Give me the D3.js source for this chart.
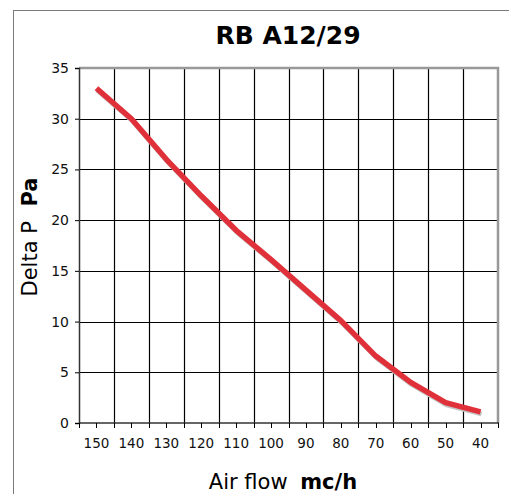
<!DOCTYPE html>
<html>
<head>
<meta charset="utf-8">
<script src="https://cdn.jsdelivr.net/npm/d3@7"></script>
<style>
body { margin: 0; background: #fff; }
svg { display: block; font-family: "DejaVu Sans", Verdana, sans-serif; }
</style>
</head>
<body>
<svg></svg>
<script>
var width = 509;
var height = 494;
var title = "RB A12/29";
var flows = [150, 140, 130, 120, 110, 100, 90, 80, 70, 60, 50, 40];
var pressure = [33, 30, 26, 22.4, 19, 16.1, 13.1, 10.1, 6.6, 4, 2, 1.1];
var yTicks = [0, 5, 10, 15, 20, 25, 30, 35];

var svg = d3.select("svg").attr("width", width).attr("height", height);

var pLeft = 79, pRight = 498, pTop = 68, pBottom = 423;

var x = d3.scaleBand().domain(flows).range([pLeft, pRight]).paddingInner(0).paddingOuter(0);
var y = d3.scaleLinear().domain([0, 35]).range([pBottom, pTop]);

// outer frame
svg.append("rect")
	.attr("x", 13.5).attr("y", 10.5)
	.attr("width", 600).attr("height", 600)
	.attr("fill", "none").attr("stroke", "#7a7a7a").attr("stroke-width", 1);

svg.append("text")
	.attr("x", 288).attr("y", 44)
	.attr("text-anchor", "middle")
	.style("font-size", "25px").style("font-weight", "bold")
	.text(title);

// grid
var g = svg.append("g");
g.selectAll(".hgrid").data(yTicks.filter(function(d) { return d > 0 && d < 35; }))
	.enter().append("line")
	.attr("x1", pLeft).attr("x2", pRight)
	.attr("y1", function(d) { return Math.round(y(d)) + 0.5; })
	.attr("y2", function(d) { return Math.round(y(d)) + 0.5; })
	.attr("stroke", "#000").attr("stroke-width", 1.2);

g.selectAll(".vgrid").data(flows.slice(1))
	.enter().append("line")
	.attr("x1", function(d) { return Math.round(x(d)) + 0.5; })
	.attr("x2", function(d) { return Math.round(x(d)) + 0.5; })
	.attr("y1", pTop).attr("y2", pBottom)
	.attr("stroke", "#000").attr("stroke-width", 1.2);

// plot border (top & right in gray)
g.append("path")
	.attr("d", "M" + pLeft + "," + pTop + "H" + pRight + "V" + pBottom)
	.attr("fill", "none").attr("stroke", "#999").attr("stroke-width", 2.5);

// line with shadow
var line = d3.line()
	.x(function(d, i) { return x(flows[i]) + x.bandwidth() / 2; })
	.y(function(d) { return y(d); });

g.append("path").datum(pressure)
	.attr("d", line)
	.attr("transform", "translate(1,2)")
	.attr("fill", "none").attr("stroke", "#c4c4c4").attr("stroke-width", 5)
	.attr("stroke-linejoin", "round");

g.append("path").datum(pressure)
	.attr("d", line)
	.attr("fill", "none").attr("stroke", "#e0313a").attr("stroke-width", 5.5)
	.attr("stroke-linejoin", "round");

// y axis
var yAxis = d3.axisLeft(y).tickValues(yTicks).tickSize(4).tickPadding(6);
var ya = svg.append("g").attr("transform", "translate(" + pLeft + ",0)").call(yAxis);
ya.select(".domain").attr("stroke", "#333").attr("stroke-width", 1.5);
ya.selectAll("text").style("font-size", "14px").style("font-family", "DejaVu Sans").attr("fill", "#111");

// x axis: ticks at band edges and centres
var xa = svg.append("g").attr("transform", "translate(0," + pBottom + ")");
xa.append("line").attr("x1", pLeft).attr("x2", pRight + 1).attr("y1", 0).attr("y2", 0)
	.attr("stroke", "#333").attr("stroke-width", 1.5);
var tickPos = [];
flows.forEach(function(f) {
	tickPos.push(x(f));
	tickPos.push(x(f) + x.bandwidth() / 2);
});
tickPos.push(pRight);
xa.selectAll(".tk").data(tickPos).enter().append("line")
	.attr("x1", function(d) { return Math.round(d) + 0.5; })
	.attr("x2", function(d) { return Math.round(d) + 0.5; })
	.attr("y1", 0).attr("y2", 5)
	.attr("stroke", "#000");
xa.selectAll(".lbl").data(flows).enter().append("text")
	.attr("x", function(d) { return x(d) + x.bandwidth() / 2; })
	.attr("y", 25)
	.attr("text-anchor", "middle")
	.attr("fill", "#111")
	.style("font-size", "13.5px")
	.text(function(d) { return d; });

// axis titles
var xt = svg.append("text")
	.attr("x", 283).attr("y", 489)
	.attr("text-anchor", "middle")
	.style("font-size", "21px");
xt.append("tspan").text("Air flow ");
xt.append("tspan").attr("dx", 6).style("font-weight", "bold").text("mc/h");

var yt = svg.append("text")
	.attr("transform", "translate(37,237) rotate(-90)")
	.attr("text-anchor", "middle")
	.style("font-size", "21px");
yt.append("tspan").text("Delta P ");
yt.append("tspan").attr("dx", 8).style("font-weight", "bold").text("Pa");
</script>
</body>
</html>
